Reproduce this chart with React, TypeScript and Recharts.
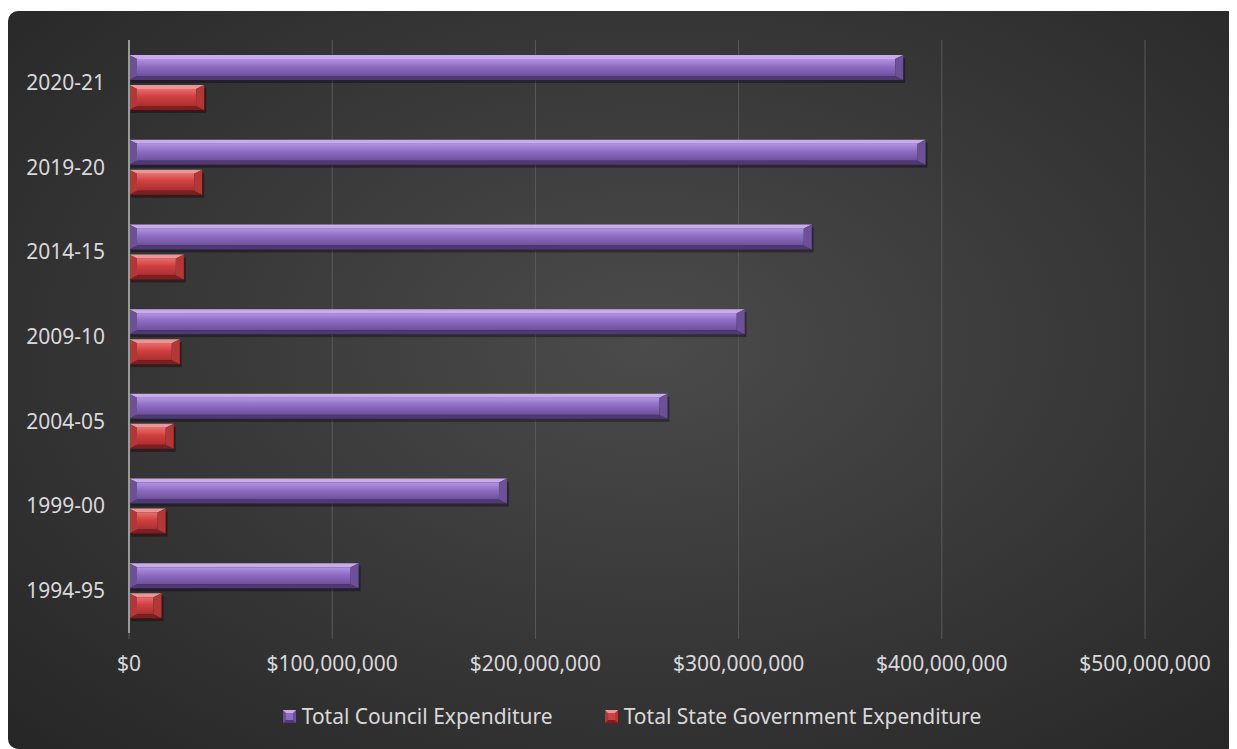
import React from 'react';
import { BarChart, Bar, XAxis, YAxis, CartesianGrid, Legend } from 'recharts';

const years = ['2020-21', '2019-20', '2014-15', '2009-10', '2004-05', '1999-00', '1994-95'];
const councilSpend = [381000000, 392000000, 336000000, 303000000, 265000000, 186000000, 113000000];
const stateSpend = [37000000, 36000000, 27000000, 25000000, 22000000, 18000000, 16000000];
const xTicks = [0, 100000000, 200000000, 300000000, 400000000, 500000000];

const data = years.map((year, i) => ({
    year,
    council: councilSpend[i],
    state: stateSpend[i],
}));

const FONT = '"Noto Sans", "Open Sans", sans-serif';
const TEXT = '#d9d9d9';

const palettes = {
    council: { id: 'gradCouncil', top: '#c9a8f4', bottom: '#4e3971', end: '#6c5196', stops: ['#b293e2', '#8e6cc2', '#6c519a'] },
    state: { id: 'gradState', top: '#f79090', bottom: '#7a2020', end: '#b23838', stops: ['#ee6a6a', '#cf4040', '#a83030'] },
};

type Pal = typeof palettes.council;

function bevel(pal: Pal) {
    return (props: any) => {
        const { x, y, width: w, height: h } = props;
        if (!w || w <= 0) return <g />;
        const bt = Math.min(4, h / 5);
        const be = Math.min(8, w / 2);
        return (
            <g>
                <rect x={x + 2} y={y + 3} width={w} height={h} fill="#000" opacity={0.35} />
                <rect x={x + be} y={y + bt} width={Math.max(0, w - 2 * be)} height={h - 2 * bt} fill={`url(#${pal.id})`} />
                <polygon points={`${x},${y} ${x + w},${y} ${x + w - be},${y + bt} ${x + be},${y + bt}`} fill={pal.top} />
                <polygon points={`${x},${y + h} ${x + w},${y + h} ${x + w - be},${y + h - bt} ${x + be},${y + h - bt}`} fill={pal.bottom} />
                <polygon points={`${x},${y} ${x + be},${y + bt} ${x + be},${y + h - bt} ${x},${y + h}`} fill={pal.end} />
                <polygon points={`${x + w},${y} ${x + w - be},${y + bt} ${x + w - be},${y + h - bt} ${x + w},${y + h}`} fill={pal.end} />
            </g>
        );
    };
}

const legendItems = [
    { label: 'Total Council Expenditure', pal: palettes.council },
    { label: 'Total State Government Expenditure', pal: palettes.state },
];

function LegendIcon({ pal }: { pal: Pal }) {
    return (
        <svg width={13} height={13} style={{ marginRight: 6 }}>
            <rect x={0} y={0} width={13} height={13} fill={pal.end} />
            <polygon points="0,0 13,0 6.5,6.5" fill={pal.top} />
            <polygon points="0,13 13,13 6.5,6.5" fill={pal.bottom} />
            <rect x={3} y={3} width={7} height={7} fill={pal.stops[1]} />
        </svg>
    );
}

function renderLegend() {
    return (
        <div style={{ display: 'flex', justifyContent: 'center', paddingLeft: 19, height: 24, lineHeight: '24px', fontFamily: FONT, fontSize: 21, color: TEXT }}>
            {legendItems.map((item, i) => (
                <div key={item.label} style={{ display: 'flex', alignItems: 'center', marginLeft: i ? 52 : 0 }}>
                    <LegendIcon pal={item.pal} />
                    <span>{item.label}</span>
                </div>
            ))}
        </div>
    );
}

const money = (v: number) => `$${v.toLocaleString('en-US')}`;

export default function App() {
    return (
        <div
            style={{
                marginTop: 3,
                width: 1229,
                height: 738,
                borderRadius: 10,
                overflow: 'hidden',
                background: 'radial-gradient(ellipse at 52% 45%, #4b4b4b 0%, #3a3a3a 45%, #262626 100%)',
            }}
        >
            <BarChart
                width={1229}
                height={738}
                data={data}
                layout="vertical"
                margin={{ top: 29, right: 92, bottom: 21, left: 0 }}
                barSize={25}
                barGap={5}
            >
                <defs>
                    {Object.values(palettes).map(p => (
                        <linearGradient key={p.id} id={p.id} x1="0" y1="0" x2="0" y2="1">
                            <stop offset="0%" stopColor={p.stops[0]} />
                            <stop offset="45%" stopColor={p.stops[1]} />
                            <stop offset="100%" stopColor={p.stops[2]} />
                        </linearGradient>
                    ))}
                </defs>
                <CartesianGrid horizontal={false} stroke="#5a5a5a" />
                <XAxis
                    type="number"
                    domain={[0, 500000000]}
                    ticks={xTicks}
                    tickFormatter={money}
                    axisLine={false}
                    tickLine={{ stroke: '#5a5a5a' }}
                    tickSize={6}
                    tickMargin={17}
                    height={71}
                    tick={{ fontSize: 21, fill: TEXT, fontFamily: FONT }}
                />
                <YAxis
                    type="category"
                    dataKey="year"
                    width={121}
                    axisLine={{ stroke: '#9a9a9a', strokeWidth: 2 }}
                    tickLine={false}
                    tickSize={0}
                    tickMargin={24}
                    tick={{ fontSize: 21, fill: TEXT, fontFamily: FONT }}
                />
                <Legend verticalAlign="bottom" content={renderLegend} wrapperStyle={{ left: 0, width: 1229 }} />
                <Bar dataKey="council" name="Total Council Expenditure" fill="#8e6cc2" shape={bevel(palettes.council)} isAnimationActive={false} />
                <Bar dataKey="state" name="Total State Government Expenditure" fill="#cf4040" shape={bevel(palettes.state)} isAnimationActive={false} />
            </BarChart>
        </div>
    );
}
